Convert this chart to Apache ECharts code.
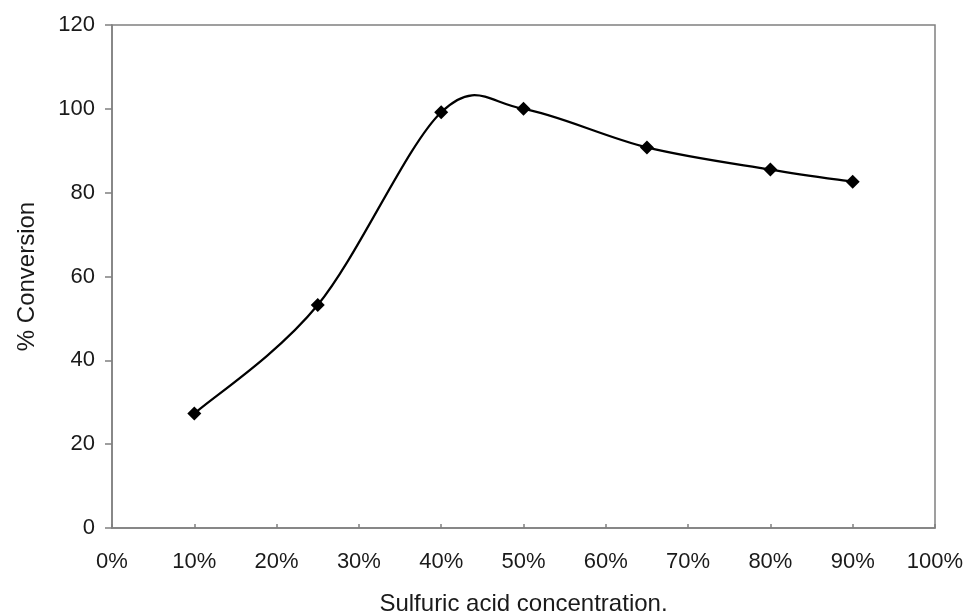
<!DOCTYPE html>
<html>
<head>
<meta charset="utf-8">
<script src="https://cdn.jsdelivr.net/npm/echarts@6/dist/echarts.min.js"></script>
<style>html,body{margin:0;padding:0;background:#fff}#c{width:968px;height:614px}</style>
</head>
<body>
<div id="c"></div>
<script>
const concentration = [10, 25, 40, 50, 65, 80, 90];
const conversion = [27.3, 53.2, 99.2, 100.0, 90.8, 85.5, 82.6];
const xTicks = [0, 10, 20, 30, 40, 50, 60, 70, 80, 90, 100];
const yTicks = [0, 20, 40, 60, 80, 100, 120];
const xName = 'Sulfuric acid concentration.';
const yName = '% Conversion';

const chart = echarts.init(document.getElementById('c'));
const font = 'Liberation Sans, Arial, sans-serif';
const pairs = concentration.map((x, i) => [x, conversion[i]]);
const n = pairs.length;

// Smoothed connecting line (Catmull-Rom style Bezier through library coords)
function renderSmooth(params, api) {
  const i = params.dataIndex;
  if (i >= n - 1) return null;
  const P = (k) => api.coord(pairs[Math.max(0, Math.min(n - 1, k))]);
  const p0 = P(i - 1), p1 = P(i), p2 = P(i + 1), p3 = P(i + 2);
  const t = 1 / 6;
  return {
    type: 'bezierCurve',
    shape: {
      x1: p1[0], y1: p1[1],
      cpx1: p1[0] + (p2[0] - p0[0]) * t, cpy1: p1[1] + (p2[1] - p0[1]) * t,
      cpx2: p2[0] - (p3[0] - p1[0]) * t, cpy2: p2[1] - (p3[1] - p1[1]) * t,
      x2: p2[0], y2: p2[1]
    },
    style: { stroke: '#000', lineWidth: 2.2, fill: null }
  };
}

chart.setOption({
  animation: false,
  backgroundColor: '#fff',
  grid: { left: 112, right: 33, top: 25, bottom: 86, outerBoundsMode: 'none', containLabel: false,
          show: true, borderColor: '#808080', borderWidth: 1.5 },
  xAxis: {
    type: 'value', min: xTicks[0], max: xTicks[xTicks.length - 1], interval: 10,
    name: xName, nameLocation: 'middle', nameGap: 64,
    nameTextStyle: { fontFamily: font, fontSize: 24, color: '#1a1a1a' },
    axisLine: { lineStyle: { color: '#808080', width: 1.5 } },
    axisTick: { show: true, length: 4, inside: true, lineStyle: { color: '#808080', width: 1.5 } },
    splitLine: { show: false },
    axisLabel: { formatter: '{value}%', margin: 23, fontFamily: font, fontSize: 22, color: '#1a1a1a' }
  },
  yAxis: {
    type: 'value', min: yTicks[0], max: yTicks[yTicks.length - 1], interval: 20,
    name: yName, nameLocation: 'middle', nameGap: 73,
    nameTextStyle: { fontFamily: font, fontSize: 24, color: '#1a1a1a' },
    axisLine: { show: true, lineStyle: { color: '#808080', width: 1.5 } },
    axisTick: { show: true, length: 7, lineStyle: { color: '#808080', width: 1.5 } },
    splitLine: { show: false },
    axisLabel: { margin: 17, fontFamily: font, fontSize: 22, color: '#1a1a1a' }
  },
  series: [
    {
      type: 'custom',
      data: pairs,
      encode: { x: 0, y: 1 },
      renderItem: renderSmooth,
      z: 2
    },
    {
      type: 'scatter',
      data: pairs,
      symbol: 'diamond', symbolSize: 14,
      itemStyle: { color: '#000', opacity: 1 },
      z: 3
    }
  ]
});
</script>
</body>
</html>
